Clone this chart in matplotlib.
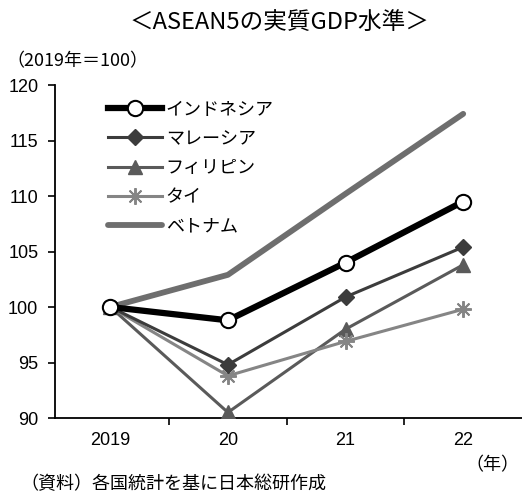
import matplotlib
matplotlib.use("Agg")
import matplotlib.pyplot as plt
from matplotlib.ticker import FixedLocator

plt.rcParams['font.family'] = ['Noto Sans CJK JP', 'DejaVu Sans']

years = ["2019", "20", "21", "22"]
indonesia = [100.0, 98.8, 104.0, 109.5]
malaysia = [100.0, 94.8, 100.9, 105.4]
philippines = [100.0, 90.5, 98.0, 103.8]
thailand = [100.0, 93.8, 96.9, 99.8]
vietnam = [100.0, 102.9, 110.2, 117.4]
yticks = [90, 95, 100, 105, 110, 115, 120]

fig = plt.figure(figsize=(5.22, 4.94), dpi=100)
ax = fig.add_axes([55/522, 1-418/494, 1-55/522, (418-85)/494])
x = list(range(len(years)))

ax.plot(x, vietnam, color='#6e6e6e', lw=4.2, label='ベトナム', zorder=2, solid_capstyle='round')
ax.plot(x, philippines, color='#5a5a5a', lw=2.2, marker='^', ms=10, mfc='#5a5a5a', mec='#5a5a5a', label='フィリピン', zorder=3)
ax.plot(x, thailand, color='#858585', lw=2.2, marker=(8, 2, 0), ms=12, mec='#858585', mew=1.4, label='タイ', zorder=4)
ax.plot(x, malaysia, color='#3c3c3c', lw=2.2, marker='D', ms=8, mfc='#3c3c3c', mec='#3c3c3c', label='マレーシア', zorder=5)
ax.plot(x, indonesia, color='#000000', lw=4.5, marker='o', ms=11, mfc='white', mec='black', mew=1.5, label='インドネシア', zorder=6)

ax.set_xlim(-0.47, 3.5)
ax.set_ylim(90, 120)
ax.set_yticks(yticks)
ax.set_xticks(x)
ax.set_xticklabels(years)
ax.xaxis.set_minor_locator(FixedLocator([0.5, 1.5, 2.5]))
ax.tick_params(axis='x', which='major', length=0, pad=10, labelsize=13)
ax.tick_params(axis='x', which='minor', length=5, width=1.2, direction='out')
ax.tick_params(axis='y', length=5, width=1.2, direction='out', labelsize=13, pad=7)
for lab in ax.get_xticklabels() + ax.get_yticklabels():
    lab.set_family(['Liberation Sans', 'DejaVu Sans'])
for s in ['top', 'right']:
    ax.spines[s].set_visible(False)
for s in ['left', 'bottom']:
    ax.spines[s].set_linewidth(1.3)

handles, labels = ax.get_legend_handles_labels()
order = [4, 3, 1, 2, 0]
leg = ax.legend([handles[i] for i in order], [labels[i] for i in order],
                loc='upper left', bbox_to_anchor=(0.098, 0.975), frameon=False,
                fontsize=13, handlelength=3.0, handletextpad=0.2, labelspacing=0.62,
                borderaxespad=0)

fig.text(0.535, 0.955, '＜ASEAN5の実質GDP水準＞', ha='center', va='center', fontsize=17)
fig.text(0.012, 0.875, '（2019年＝100）', ha='left', va='center', fontsize=13)
fig.text(0.995, 0.058, '（年）', ha='right', va='center', fontsize=13)
fig.text(0.04, 0.02, '（資料）各国統計を基に日本総研作成', ha='left', va='center', fontsize=13)

fig.savefig('out.png', dpi=100)
